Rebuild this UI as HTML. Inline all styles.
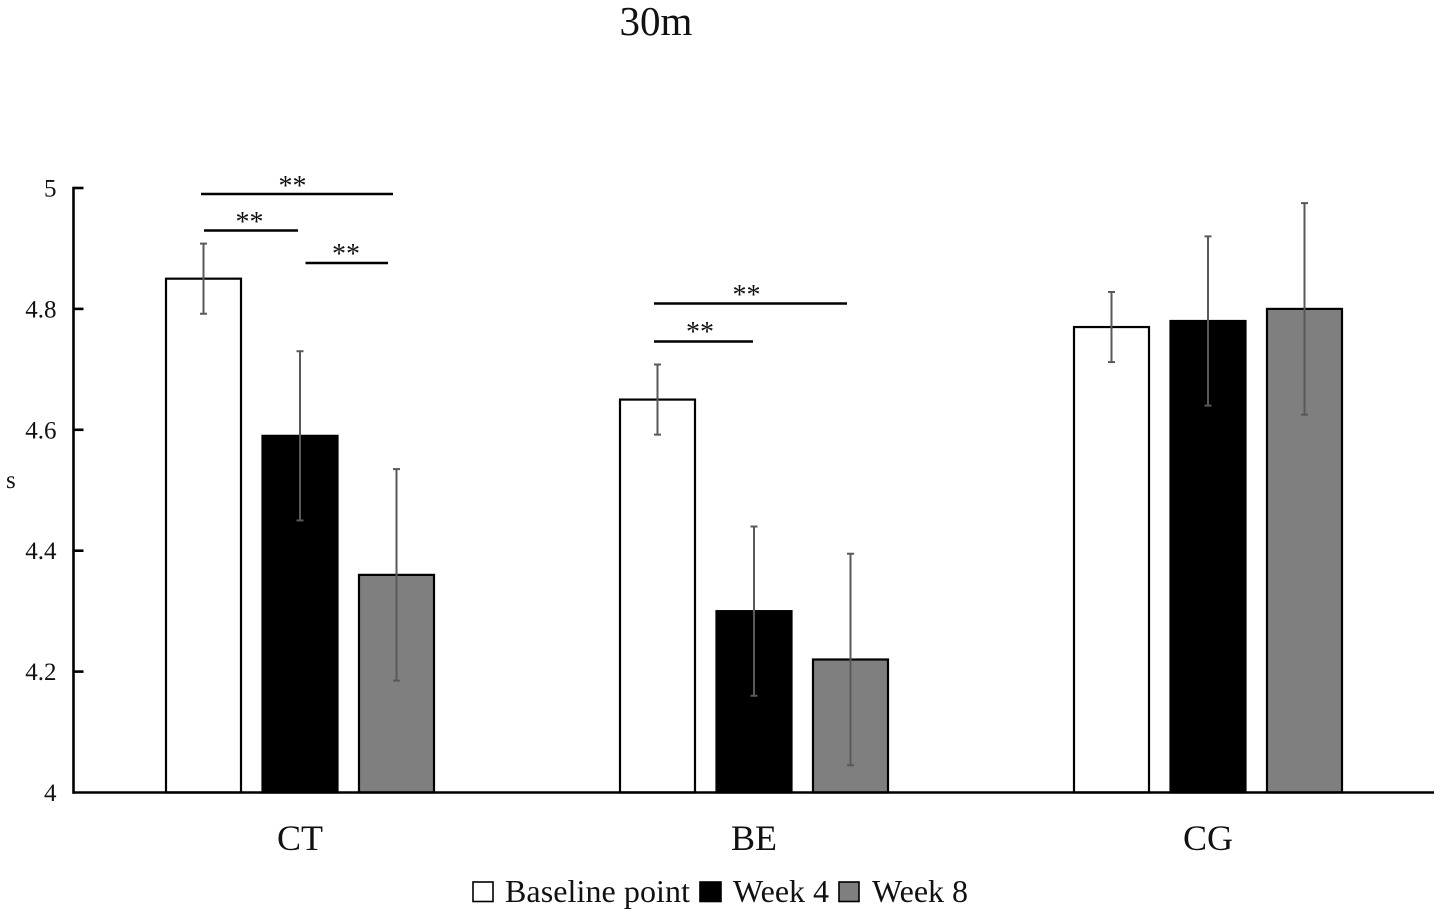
<!DOCTYPE html>
<html lang="en">
<head>
<meta charset="utf-8">
<title>30m</title>
<style>
html,body{margin:0;padding:0;background:#fff;}
svg{display:block;font-family:"Liberation Serif",serif;fill:#111;}
</style>
</head>
<body>
<svg id="chart" width="1441" height="916" viewBox="0 0 1441 916" xmlns="http://www.w3.org/2000/svg">
  <text x="656" y="35" font-size="41" text-anchor="middle">30m</text>
  <text x="6" y="488" font-size="25">s</text>

  <g id="marks"></g>
  <g id="axes"></g>

  <g stroke="none">
    <line x1="201" y1="194" x2="393" y2="194" stroke="#000" stroke-width="2.6"/>
    <text x="292.5" y="195" font-size="28" text-anchor="middle">**</text>
    <line x1="204" y1="230.5" x2="298" y2="230.5" stroke="#000" stroke-width="2.6"/>
    <text x="249.5" y="231" font-size="28" text-anchor="middle">**</text>
    <line x1="305.5" y1="263" x2="388" y2="263" stroke="#000" stroke-width="2.6"/>
    <text x="346" y="263" font-size="28" text-anchor="middle">**</text>
    <line x1="654" y1="303.5" x2="847" y2="303.5" stroke="#000" stroke-width="2.6"/>
    <text x="746.5" y="304" font-size="28" text-anchor="middle">**</text>
    <line x1="654" y1="341.5" x2="753" y2="341.5" stroke="#000" stroke-width="2.6"/>
    <text x="700" y="341" font-size="28" text-anchor="middle">**</text>
  </g>

  <g font-size="32">
    <g>
      <rect x="473" y="882" width="20" height="19.5" fill="#fff" stroke="#000" stroke-width="1.6"/>
      <text x="505" y="902" textLength="185">Baseline point</text>
    </g>
    <g>
      <rect x="700" y="882" width="21" height="19.5" fill="#000" stroke="#000" stroke-width="1.6"/>
      <text x="733" y="902">Week 4</text>
    </g>
    <g>
      <rect x="839" y="882" width="20" height="19.5" fill="#7f7f7f" stroke="#000" stroke-width="1.6"/>
      <text x="872" y="902">Week 8</text>
    </g>
  </g>
</svg>
<script>
var categories = ['CT', 'BE', 'CG'];
var seriesNames = ['Baseline point', 'Week 4', 'Week 8'];
var baselineValues = [4.85, 4.65, 4.77];
var week4Values = [4.59, 4.30, 4.78];
var week8Values = [4.36, 4.22, 4.80];
var baselineUpper = [4.908, 4.708, 4.828];
var baselineLower = [4.792, 4.592, 4.712];
var week4Upper = [4.73, 4.44, 4.92];
var week4Lower = [4.45, 4.16, 4.64];
var week8Upper = [4.535, 4.395, 4.975];
var week8Lower = [4.185, 4.045, 4.625];
var yTicks = ['4', '4.2', '4.4', '4.6', '4.8', '5'];

var NS = 'http://www.w3.org/2000/svg';
var fills = ['#ffffff', '#000000', '#7f7f7f'];
var slugs = ['baseline', 'week4', 'week8'];
var seriesValues = [baselineValues, week4Values, week8Values];
var seriesUpper = [baselineUpper, week4Upper, week8Upper];
var seriesLower = [baselineLower, week4Lower, week8Lower];

function yScale(v) {
  return 792.5 - (v - 4) * 604.5;
}
function groupCenter(i) {
  return 300 + i * 454;
}
function barCenter(i, s) {
  return groupCenter(i) + (s - 1) * 96.5;
}
function make(tag, attrs, parent) {
  var el = document.createElementNS(NS, tag);
  for (var k in attrs) el.setAttribute(k, attrs[k]);
  parent.appendChild(el);
  return el;
}

var marks = document.getElementById('marks');
var axes = document.getElementById('axes');
var barWidth = 75;

seriesValues.forEach(function (values, s) {
  values.forEach(function (v, i) {
    var cx = barCenter(i, s);
    var top = yScale(v);
    var bar = make('rect', {
      x: cx - barWidth / 2, y: top, width: barWidth, height: yScale(4) - top,
      fill: fills[s], stroke: '#000', 'stroke-width': 2.2
    }, marks);
    
    
  });
});

seriesValues.forEach(function (values, s) {
  values.forEach(function (v, i) {
    var cx = barCenter(i, s);
    var yHi = yScale(seriesUpper[s][i]);
    var yLo = yScale(seriesLower[s][i]);
    var g = make('g', { stroke: '#595959', 'stroke-width': 2, fill: 'none' }, marks);
    
    
    make('line', { x1: cx, x2: cx, y1: yHi, y2: yLo }, g);
    make('line', { x1: cx - 3.5, x2: cx + 3.5, y1: yHi, y2: yHi }, g);
    make('line', { x1: cx - 3.5, x2: cx + 3.5, y1: yLo, y2: yLo }, g);
  });
});

var yAxisLine = make('line', { x1: 73.5, x2: 73.5, y1: yScale(5) - 1.2, y2: yScale(4) + 1.2, stroke: '#000', 'stroke-width': 2.6 }, axes);


var xAxisLine = make('line', { x1: 72.5, x2: 1434, y1: yScale(4), y2: yScale(4), stroke: '#000', 'stroke-width': 2.6 }, axes);



yTicks.forEach(function (label) {
  var y = yScale(parseFloat(label));
  if (parseFloat(label) !== 4) {
    var tick = make('line', { x1: 73.5, x2: 83.5, y1: y, y2: y, stroke: '#000', 'stroke-width': 2.6 }, axes);
    
    
  }
  var t = make('text', { x: 56.5, y: y + 8.5, 'font-size': 25, 'text-anchor': 'end' }, axes);
  
  
  t.textContent = label;
});

categories.forEach(function (label, i) {
  var t = make('text', { x: groupCenter(i), y: 850, 'font-size': 36, 'text-anchor': 'middle' }, axes);
  
  
  t.textContent = label;
});
</script>
</body>
</html>
